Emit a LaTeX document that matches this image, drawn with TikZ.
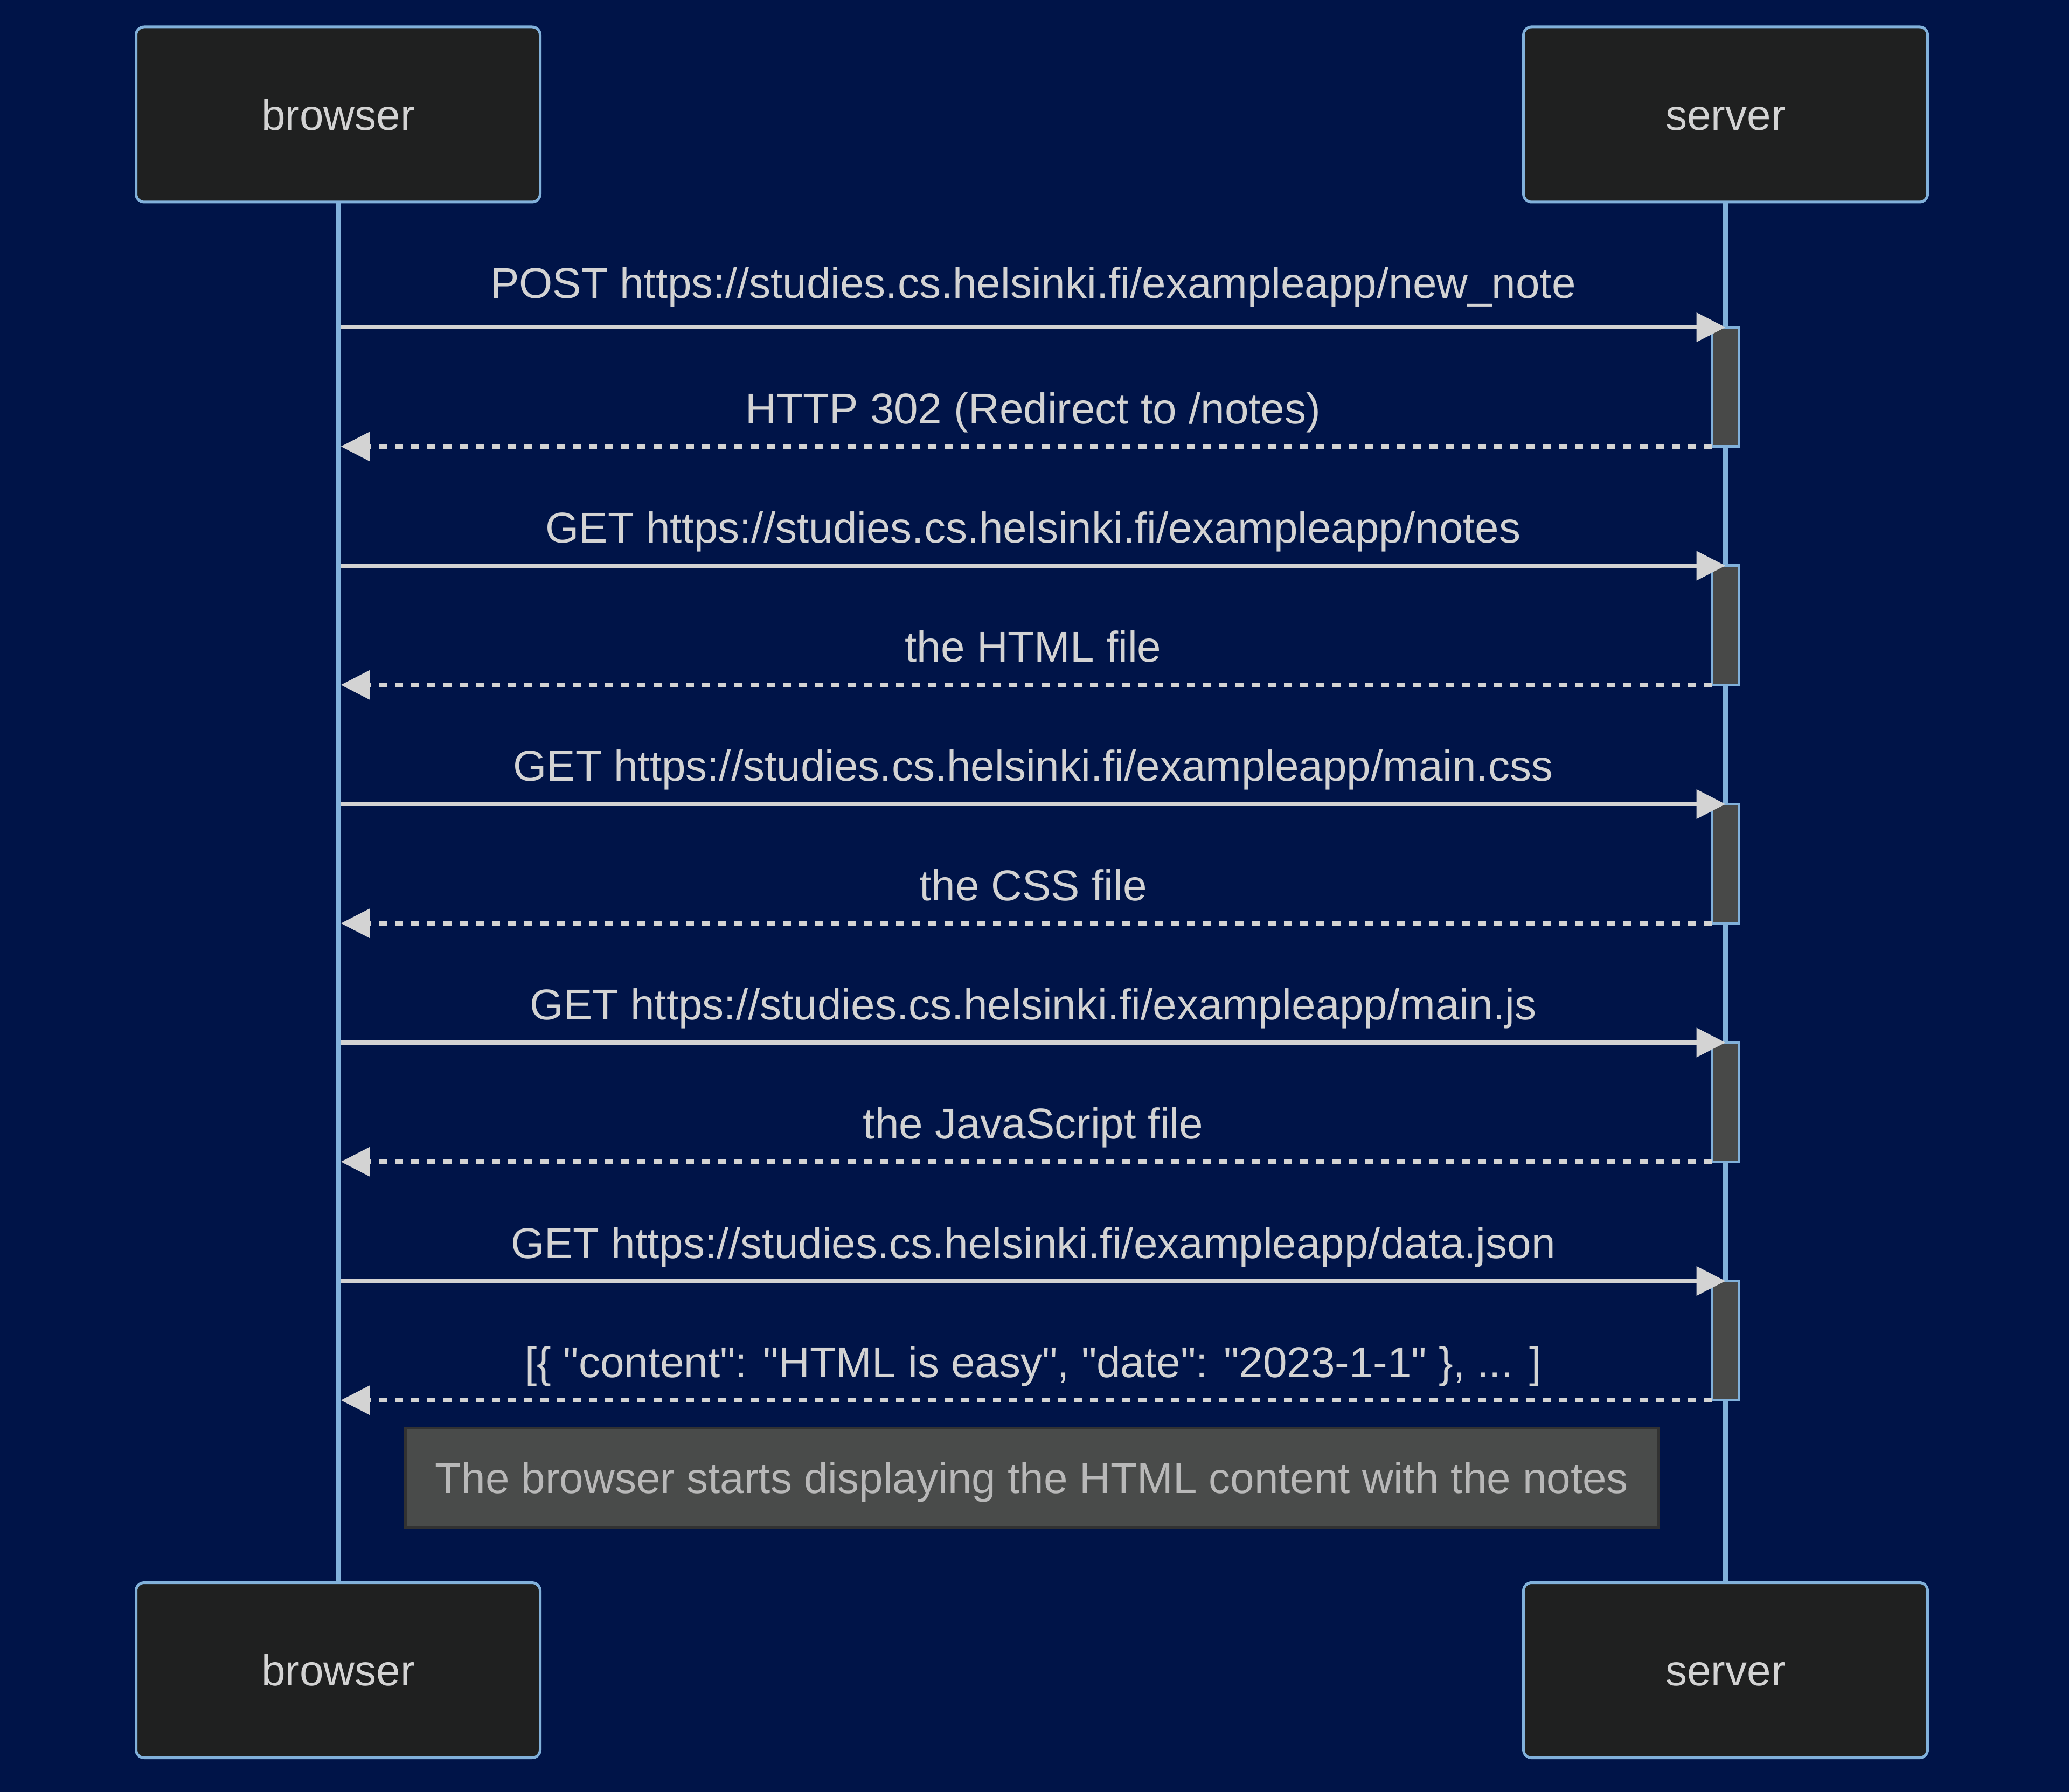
\documentclass[tikz,border=0pt]{standalone}
\usepackage{fontspec}
\setmainfont{Liberation Sans}
\usetikzlibrary{arrows.meta}

\definecolor{bgnavy}{RGB}{0,20,72}
\definecolor{actorfill}{RGB}{31,32,32}
\definecolor{actorline}{RGB}{129,177,219}
\definecolor{msgcol}{RGB}{211,211,211}
\definecolor{actfill}{RGB}{72,73,72}
\definecolor{notefill}{RGB}{73,75,74}
\definecolor{noteline}{RGB}{50,50,50}
\definecolor{notetext}{RGB}{184,184,184}

\begin{document}
\begin{tikzpicture}[x=1pt, y=-1pt,
  actor/.style={draw=actorline, fill=actorfill, line width=1pt, rounded corners=3pt,
    minimum width=150pt, minimum height=65pt, inner sep=0pt, outer sep=0pt, text=msgcol,
    font=\fontsize{16pt}{19pt}\selectfont, text height=11.5pt, text depth=0pt},
  lifeline/.style={draw=actorline, line width=2pt},
  activation/.style={draw=actorline, fill=actfill, line width=1pt,
    minimum width=10pt, minimum height=44.25pt, inner sep=0pt, outer sep=0pt},
  request/.style={draw=msgcol, line width=1.6pt, -{Triangle[length=10.8pt, width=10.6pt]}},
  reply/.style={request, dash pattern=on 3pt off 3pt, shorten <=5pt},
  msglabel/.style={text=msgcol, font=\fontsize{16pt}{19pt}\selectfont, anchor=base, inner sep=0pt},
  notebox/.style={draw=noteline, fill=notefill, line width=1pt, text=notetext,
    font=\fontsize{16pt}{19pt}\selectfont, minimum width=465pt, minimum height=37pt,
    inner sep=0pt, text height=11.5pt, text depth=0pt}
]

% Background and page size
\fill[bgnavy] (0,0) rectangle (768,665.2);
\useasboundingbox (0,0) rectangle (768,665.2);

% Actors top and bottom
\node[actor] (browserTop) at (125.5,42.5) {browser};
\node[actor] (serverTop) at (640.5,42.5) {server};
\node[actor] (browserBot) at (125.5,620) {browser};
\node[actor] (serverBot) at (640.5,620) {server};

% Lifelines
\draw[lifeline] (browserTop.south) -- (browserBot.north);
\draw[lifeline] (serverTop.south) -- (serverBot.north);

% Activation boxes on the server
\node[activation] (act1) at (640.5,143.625) {};
\node[activation] (act2) at (640.5,232.125) {};
\node[activation] (act3) at (640.5,320.625) {};
\node[activation] (act4) at (640.5,409.125) {};
\node[activation] (act5) at (640.5,497.625) {};

% Ends of the messages on the browser lifeline
\coordinate (req1) at (126.5,121.5);
\coordinate (rep1) at (126.5,165.75);
\coordinate (req2) at (126.5,210);
\coordinate (rep2) at (126.5,254.25);
\coordinate (req3) at (126.5,298.5);
\coordinate (rep3) at (126.5,342.75);
\coordinate (req4) at (126.5,387);
\coordinate (rep4) at (126.5,431.25);
\coordinate (req5) at (126.5,475.5);
\coordinate (rep5) at (126.5,519.75);

% Form submit and redirect
\draw[request] (req1) -- (act1.north)
  node[msglabel, midway, yshift=10.8pt] {POST https://studies.cs.helsinki.fi/exampleapp/new\_note};
\draw[reply] (act1.south) -- (rep1)
  node[msglabel, midway, yshift=8.5pt] {HTTP 302 (Redirect to /notes)};

% Page reload
\draw[request] (req2) -- (act2.north)
  node[msglabel, midway, yshift=8.5pt] {GET https://studies.cs.helsinki.fi/exampleapp/notes};
\draw[reply] (act2.south) -- (rep2)
  node[msglabel, midway, yshift=8.5pt] {the HTML file};

% Stylesheet
\draw[request] (req3) -- (act3.north)
  node[msglabel, midway, yshift=8.5pt] {GET https://studies.cs.helsinki.fi/exampleapp/main.css};
\draw[reply] (act3.south) -- (rep3)
  node[msglabel, midway, yshift=8.5pt] {the CSS file};

% Script
\draw[request] (req4) -- (act4.north)
  node[msglabel, midway, yshift=8.5pt] {GET https://studies.cs.helsinki.fi/exampleapp/main.js};
\draw[reply] (act4.south) -- (rep4)
  node[msglabel, midway, yshift=8.5pt] {the JavaScript file};

% Data
\draw[request] (req5) -- (act5.north)
  node[msglabel, midway, yshift=8.5pt] {GET https://studies.cs.helsinki.fi/exampleapp/data.json};
\draw[reply] (act5.south) -- (rep5)
  node[msglabel, midway, yshift=8.5pt] {[\{ \textquotedbl content\textquotedbl: \textquotedbl HTML is easy\textquotedbl, \textquotedbl date\textquotedbl: \textquotedbl 2023-1-1\textquotedbl\ \}, ... ]};

% Note
\node[notebox] (note) at (383,548.5) {The browser starts displaying the HTML content with the notes};

\end{tikzpicture}
\end{document}
